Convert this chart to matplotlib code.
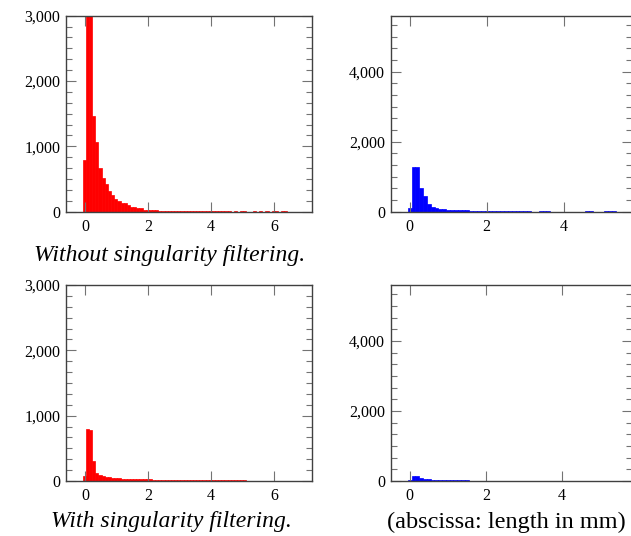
import numpy as np
import matplotlib
matplotlib.use("Agg")
import matplotlib.pyplot as plt
from matplotlib.ticker import FuncFormatter, AutoMinorLocator

# histogram counts, bin width 0.1 mm
bin_width = 0.1
red_start = -0.07
blue_start = -0.05

red_unfiltered = [790, 3400, 3250, 1460, 1060, 665, 520, 425, 320, 255,
                  195, 170, 140, 130, 100, 70, 67, 62, 55, 30,
                  28, 25, 22, 20, 18, 16, 14, 12, 11, 10,
                  9, 9, 8, 8, 7, 6, 5, 5, 4, 4,
                  6, 7, 5, 4, 6, 5, 4, 3, 4, 3,
                  6, 5, 3, 0, 6, 0, 5, 0, 5, 0,
                  5, 4, 0, 5, 4, 0, 0, 0, 0, 0]
blue_unfiltered = [110, 1290, 1280, 690, 450, 225, 140, 110, 80, 75,
                   55, 50, 48, 45, 40, 35, 30, 26, 22, 18,
                   15, 13, 12, 11, 10, 10, 9, 8, 8, 7,
                   7, 6, 0, 0, 7, 8, 6, 0, 0, 0,
                   0, 0, 0, 0, 0, 0, 6, 7, 0, 0,
                   0, 6, 7, 6, 0, 0, 0, 0]
red_filtered = [80, 790, 785, 300, 125, 97, 80, 62, 55, 45,
                42, 40, 38, 35, 32, 30, 28, 27, 26, 25,
                24, 23, 22, 21, 20, 20, 19, 18, 17, 16,
                15, 15, 14, 14, 13, 13, 12, 12, 12, 11,
                11, 11, 10, 10, 10, 9, 9, 9, 8, 8,
                8, 8, 7, 7, 7, 7, 6, 6, 6, 6,
                5, 5, 5, 4, 4, 0, 0]
blue_filtered = [35, 150, 145, 100, 67, 45, 38, 35, 32, 30,
                 28, 25, 22, 20, 18, 15, 12, 10, 9, 8,
                 0, 0, 0, 6, 5, 0, 0, 0, 5, 5,
                 0, 0, 0, 0, 0, 0, 0, 0, 0, 0,
                 0, 0, 0, 0, 0, 0, 0, 0, 0, 0,
                 0, 0, 0, 4, 0, 0, 0, 0]

x_ticks_left = [0, 2, 4, 6]
x_ticks_right = [0, 2, 4]
y_ticks_red = [0, 1000, 2000, 3000]
y_ticks_blue = [0, 2000, 4000]

captions = ["Without singularity filtering.", "With singularity filtering.",
            "(abscissa: length in mm)"]

plt.rcParams['font.family'] = ['Liberation Serif', 'DejaVu Serif']

W, H = 631, 536
fig = plt.figure(figsize=(W / 100, H / 100), dpi=100)


def rect(l, t, r, b):
    return [l / W, 1 - b / H, (r - l) / W, (b - t) / H]


def panel(box, counts, start, color, xlim, ylim, xt, yt):
    ax = fig.add_axes(rect(*box))
    lefts = start + bin_width * np.arange(len(counts))
    ax.bar(lefts, counts, width=bin_width, align='edge', color=color,
           edgecolor=color, linewidth=0.5)
    ax.set_xlim(*xlim)
    ax.set_ylim(*ylim)
    ax.set_xticks(xt)
    ax.set_yticks(yt)
    ax.yaxis.set_minor_locator(AutoMinorLocator(6))
    ax.yaxis.set_major_formatter(FuncFormatter(lambda v, p: f'{v:,.0f}'))
    ax.tick_params(which='both', direction='in', top=True, right=True,
                   color='0.45', width=0.8, labelsize=11.5)
    ax.tick_params(which='major', length=7.5)
    ax.tick_params(which='minor', length=4.5)
    ax.tick_params(axis='x', pad=5)
    ax.tick_params(axis='y', pad=4)
    for s in ax.spines.values():
        s.set_color('0.25')
        s.set_linewidth(1.0)
    return ax


panel((65.7, 15.7, 311.7, 211.7), red_unfiltered, red_start, '#ff0000',
      (-0.61, 7.2), (0, 3000), x_ticks_left, y_ticks_red)
panel((390.7, 15.7, 631.5, 211.7), blue_unfiltered, blue_start, '#0000ff',
      (-0.49, 5.76), (0, 5600), x_ticks_right, y_ticks_blue)
panel((65.7, 285, 311.7, 481), red_filtered, red_start, '#ff0000',
      (-0.61, 7.2), (0, 3000), x_ticks_left, y_ticks_red)
panel((390.7, 285, 631.5, 481), blue_filtered, blue_start, '#0000ff',
      (-0.5, 5.83), (0, 5600), x_ticks_right, y_ticks_blue)

fig.text(170 / W, 1 - 255 / H, captions[0], ha='center', va='center',
         fontsize=17, style='italic')
fig.text(171 / W, 1 - 522 / H, captions[1], ha='center', va='center',
         fontsize=17, style='italic')
fig.text(506 / W, 1 - 522 / H, captions[2], ha='center', va='center',
         fontsize=17.5)

fig.savefig('out.png', dpi=100)
